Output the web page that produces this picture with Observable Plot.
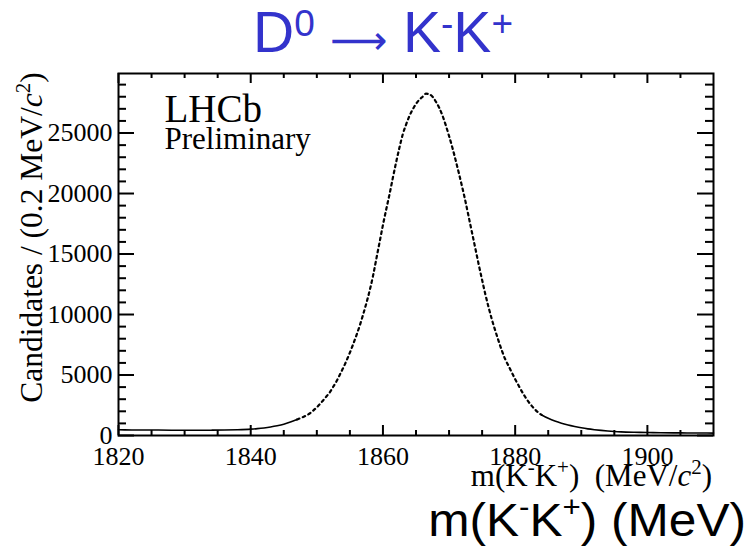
<!DOCTYPE html>
<html>
<head>
<meta charset="utf-8">
<script src="https://cdn.jsdelivr.net/npm/d3@7"></script>
<script src="https://cdn.jsdelivr.net/npm/@observablehq/plot@0.6"></script>
<style>
  body { margin: 0; background: white; }
  #wrap { position: relative; width: 745px; height: 555px; background: white; overflow: hidden; }
  .ttl { position: absolute; top: 3.5px; font-family: "Liberation Sans", Arial, sans-serif; font-size: 57px; line-height: 57px; color: #3333cc; white-space: pre; }
  .ttl .sp { font-size: 37px; position: relative; top: -16px; }
  #arrow { left: 289px; width: 140px; text-align: center; top: 20px; font-family: "DejaVu Sans", sans-serif; font-size: 40px; line-height: 40px; }
  #plot { position: absolute; left: 0; top: 62px; }
  #caption { position: absolute; right: -1px; top: 497px; font-family: "Liberation Sans", Arial, sans-serif; font-size: 46px; line-height: 46px; color: black; white-space: pre; transform: scaleX(1.077); transform-origin: right center; }
  #caption .sp { font-size: 29px; position: relative; top: -19px; }
</style>
</head>
<body>
<div id="wrap">
  <div id="title">
    <span class="ttl" style="left:253px">D<span class="sp">0</span></span><span class="ttl" id="arrow">⟶</span><span class="ttl" style="left:403px">K<span class="sp">-</span>K<span class="sp">+</span></span>
  </div>
  <div id="plot"></div>
  <div id="caption">m(K<span class="sp">-</span>K<span class="sp">+</span>) (MeV)</div>
</div>
<script>
// ---- data (bin centre in MeV, candidates per 0.2 MeV) ----
const massMeV = [
  1820, 1822, 1824, 1826, 1828, 1830, 1832, 1834, 1836, 1838,
  1840, 1841, 1842, 1843, 1844, 1845, 1846, 1847, 1848, 1848.5,
  1849, 1849.5, 1850, 1850.5, 1851, 1851.5, 1852, 1852.5, 1853, 1853.5,
  1854, 1854.5, 1855, 1855.5, 1856, 1856.5, 1857, 1857.5, 1858, 1858.5,
  1859, 1859.5, 1860, 1860.5, 1861, 1861.5, 1862, 1862.5, 1863, 1863.5,
  1864, 1864.5, 1865, 1865.5, 1866, 1866.5, 1867, 1867.5, 1868, 1868.5,
  1869, 1869.5, 1870, 1870.5, 1871, 1871.5, 1872, 1872.5, 1873, 1873.5,
  1874, 1874.5, 1875, 1875.5, 1876, 1876.5, 1877, 1877.5, 1878, 1878.5,
  1879, 1879.5, 1880, 1880.5, 1881, 1881.5, 1882, 1882.5, 1883, 1883.5,
  1884, 1885, 1886, 1887, 1888, 1889, 1890, 1891, 1892, 1893,
  1894, 1895, 1896, 1898, 1900, 1902, 1904, 1906, 1908, 1910
];
const candidates = [
  470, 460, 455, 450, 440, 440, 435, 440, 450, 480,
  530, 570, 625, 700, 800, 930, 1110, 1320, 1550, 1680,
  1850, 2080, 2330, 2620, 2930, 3260, 3600, 4050, 4500, 5050,
  5600, 6200, 6850, 7550, 8300, 9100, 10000, 10950, 12000, 13200,
  14600, 16000, 17400, 18700, 19950, 21300, 22600, 23800, 24900, 25700,
  26400, 26950, 27400, 27750, 28000, 28250, 28200, 28000, 27600, 27100,
  26450, 25650, 24750, 23800, 22750, 21650, 20500, 19300, 18000, 16700,
  15400, 14100, 12850, 11650, 10550, 9550, 8650, 7800, 7000, 6300,
  5750, 5200, 4650, 4150, 3650, 3200, 2800, 2450, 2150, 1900,
  1700, 1420, 1190, 1010, 870, 750, 640, 550, 480, 420,
  370, 330, 300, 265, 245, 230, 220, 210, 205, 200
];
// ---- axis tick values and labels ----
const xTickLabels = [1820, 1840, 1860, 1880, 1900];
const xMinorTicks = [1825, 1830, 1835, 1845, 1850, 1855, 1865, 1870, 1875, 1885, 1890, 1895, 1905];
const yTickLabels = [0, 5000, 10000, 15000, 20000, 25000];
const yMinorTicks = [1000, 2000, 3000, 4000, 6000, 7000, 8000, 9000, 11000, 12000, 13000, 14000,
  16000, 17000, 18000, 19000, 21000, 22000, 23000, 24000, 26000, 27000, 28000, 29000];
const experimentLabel = ["LHCb"];
const statusLabel = ["Preliminary"];

const rows = massMeV.map((m, i) => ({m, n: candidates[i]}));

const W = 745, H = 440;
const mL = 118, mR = 32, mT = 11, mB = 67;
const frameW = W - mL - mR, frameH = H - mT - mB;
const serif = "'Liberation Serif', 'Times New Roman', serif";

const chart = Plot.plot({
  width: W, height: H,
  marginLeft: mL, marginRight: mR, marginTop: mT, marginBottom: mB,
  style: {fontFamily: serif, fontSize: "26px", color: "black", background: "white", overflow: "visible"},
  x: {domain: [1820, 1910], ticks: xTickLabels, tickSize: 0, tickPadding: 11, tickFormat: d => String(d), label: null},
  y: {domain: [0, 29920], ticks: yTickLabels, tickSize: 0, tickPadding: 6, tickFormat: d => String(d), label: null},
  marks: [
    // tails drawn solid, core dotted like the per-bin markers
    Plot.line(rows, {filter: d => d.m <= 1847 || d.m >= 1884, x: "m", y: "n", z: d => d.m < 1866 ? "L" : "R",
      stroke: "black", strokeWidth: 1.6, curve: "monotone-x"}),
    Plot.line(rows, {filter: d => d.m >= 1847 && d.m <= 1884, x: "m", y: "n",
      stroke: "black", strokeWidth: 2.2, strokeDasharray: "2.6,3.6", curve: "monotone-x"}),
    // inward ticks on all four sides
    Plot.tickX(xMinorTicks, {x: d => d, insetTop: frameH - 5, stroke: "black", strokeWidth: 2}),
    Plot.tickX(xTickLabels, {x: d => d, insetTop: frameH - 10, stroke: "black", strokeWidth: 2}),
    Plot.tickX(xMinorTicks, {x: d => d, insetBottom: frameH - 5, stroke: "black", strokeWidth: 2}),
    Plot.tickX(xTickLabels, {x: d => d, insetBottom: frameH - 10, stroke: "black", strokeWidth: 2}),
    Plot.tickY(yMinorTicks, {y: d => d, insetRight: frameW - 8, stroke: "black", strokeWidth: 2}),
    Plot.tickY(yTickLabels, {y: d => d, insetRight: frameW - 16, stroke: "black", strokeWidth: 2}),
    Plot.tickY(yMinorTicks, {y: d => d, insetLeft: frameW - 8, stroke: "black", strokeWidth: 2}),
    Plot.tickY(yTickLabels, {y: d => d, insetLeft: frameW - 16, stroke: "black", strokeWidth: 2}),
    Plot.frame({stroke: "black", strokeWidth: 2}),
    Plot.text(experimentLabel, {text: d => d, frameAnchor: "top-left", textAnchor: "start", lineAnchor: "bottom",
      dx: 46, dy: 48.7, fontSize: 39, fill: "black"}),
    Plot.text(statusLabel, {text: d => d, frameAnchor: "top-left", textAnchor: "start", lineAnchor: "bottom",
      dx: 46, dy: 75.3, fontSize: 31, fill: "black"})
  ]
});

// axis titles with superscripts and italic c
const svg = d3.select(chart.tagName.toLowerCase() === "svg" ? chart : chart.querySelector("svg"));
const xt = svg.append("text")
  .attr("x", 712).attr("y", 424)
  .attr("text-anchor", "end")
  .style("font-family", serif).style("font-size", "31px").style("white-space", "pre").attr("fill", "black");
xt.append("tspan").text("m(K");
xt.append("tspan").attr("dy", -12).style("font-size", "21px").text("-");
xt.append("tspan").attr("dy", 12).text("K");
xt.append("tspan").attr("dy", -12).style("font-size", "21px").text("+");
xt.append("tspan").attr("dy", 12).text(")  (MeV/");
xt.append("tspan").style("font-style", "italic").text("c");
xt.append("tspan").attr("dy", -12).style("font-size", "21px").text("2");
xt.append("tspan").attr("dy", 12).text(")");

const yt = svg.append("text")
  .attr("transform", "translate(42,175.5) rotate(-90)")
  .attr("text-anchor", "middle")
  .style("font-family", serif).style("font-size", "31.5px").style("white-space", "pre").attr("fill", "black");
yt.append("tspan").text("Candidates / (0.2 MeV/");
yt.append("tspan").style("font-style", "italic").text("c");
yt.append("tspan").attr("dy", -12).style("font-size", "21px").text("2");
yt.append("tspan").attr("dy", 12).text(")");

document.getElementById("plot").appendChild(chart);
</script>
</body>
</html>
